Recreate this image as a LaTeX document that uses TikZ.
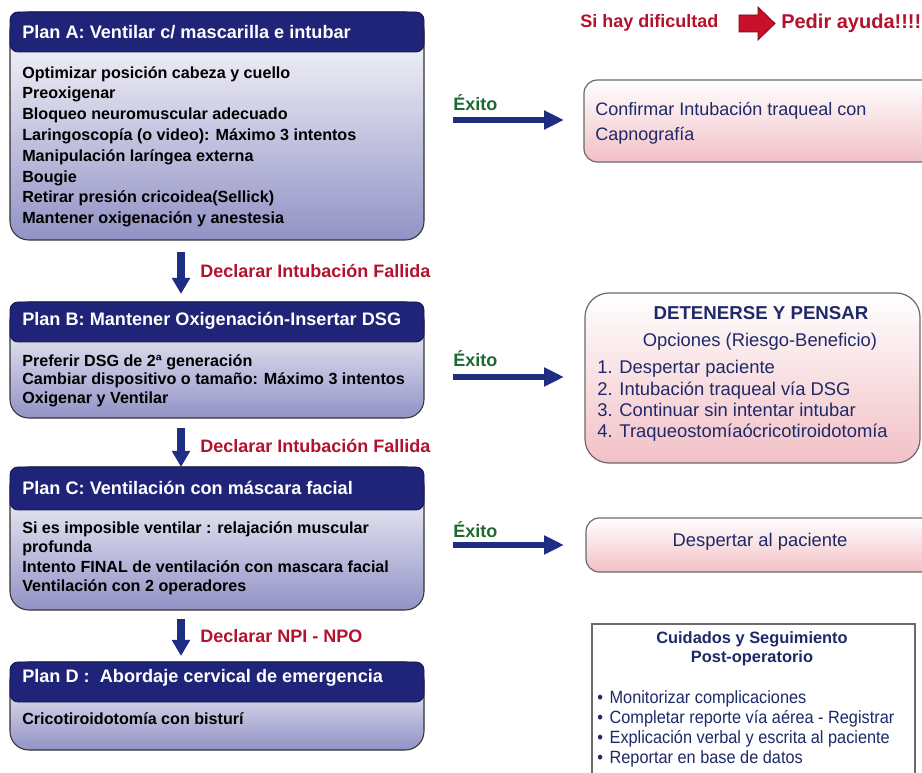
\documentclass[tikz,border=0pt]{standalone}
\usepackage{fontspec}
\setmainfont{Liberation Sans}
\newfontfamily\narrowfont[FakeStretch=0.92]{Liberation Sans}
\usetikzlibrary{arrows.meta,fit}
\definecolor{navy}{HTML}{1F2479}
\definecolor{lav}{HTML}{9292C6}
\definecolor{pinkb}{HTML}{F2C0C6}
\definecolor{redt}{HTML}{B3122D}
\definecolor{redarrow}{HTML}{C8102C}
\definecolor{greent}{HTML}{1D6A30}
\definecolor{txtblue}{HTML}{1E2968}
\definecolor{arrowblue}{HTML}{1F2D82}
\definecolor{bordergray}{HTML}{6A6A6A}
\begin{document}
\begin{tikzpicture}[x=0.75pt,y=-0.75pt,
  planbody/.style={draw=black!80, line width=0.8pt, rounded corners=14pt, top color=white, bottom color=lav, inner sep=0pt},
  planhead/.style={fill=navy, draw=navy!60!black, line width=0.6pt, rounded corners=6pt, inner sep=0pt},
  headtxt/.style={text=white, font=\bfseries\fontsize{13.6}{16}\selectfont, anchor=west, inner sep=0pt},
  bodytxt/.style={text=black, font=\bfseries\fontsize{12.1}{15.6}\selectfont, anchor=north west, align=left, inner sep=0pt},
  pinkbox/.style={draw=bordergray, line width=0.9pt, top color=white, bottom color=pinkb, inner sep=0pt},
  bluetxt/.style={text=txtblue, inner sep=0pt},
  redtxt/.style={text=redt, font=\bfseries\fontsize{13.5}{16}\selectfont, anchor=west, inner sep=0pt},
  exitotxt/.style={text=greent, font=\bfseries\fontsize{13.5}{16}\selectfont, anchor=west, inner sep=0pt},
  downarr/.style={draw=arrowblue, line width=6pt, -{Triangle[length=12pt,width=13pt]}},
  rightarr/.style={draw=arrowblue, line width=4.5pt, -{Triangle[length=15pt,width=13.5pt]}}
]
\clip (0,0) rectangle (922,773);
\fill[white] (0,0) rectangle (922,773);

% ---------- Plan A ----------
\node[planbody, fit={(10,12) (424,240)}] (Abody) {};
\node[planhead, fit={(10,12) (424,52)}] (Ahead) {};
\node[headtxt] (Aht) at (22,32) {Plan A: Ventilar c/ mascarilla e intubar};
\node[bodytxt] (Abt) at (22,66) {Optimizar posición cabeza y cuello\\Preoxigenar\\Bloqueo neuromuscular adecuado\\Laringoscopía (o video): Máximo 3 intentos\\Manipulación laríngea externa\\Bougie\\Retirar presión cricoidea(Sellick)\\Mantener oxigenación y anestesia};

% ---------- Plan B ----------
\node[planbody, fit={(10,302) (424,418)}] (Bbody) {};
\node[planhead, fit={(10,302) (424,342)}] (Bhead) {};
\node[headtxt] (Bht) at (22,321) {Plan B: Mantener Oxigenación-Insertar DSG};
\node[bodytxt, font=\bfseries\fontsize{12.1}{14}\selectfont] (Bbt) at (22,354) {Preferir DSG de 2ª generación\\Cambiar dispositivo o tamaño: Máximo 3 intentos\\Oxigenar y Ventilar};

% ---------- Plan C ----------
\node[planbody, fit={(10,467) (424,610)}] (Cbody) {};
\node[planhead, fit={(10,467) (424,510)}] (Chead) {};
\node[headtxt] (Cht) at (22,488) {Plan C: Ventilación con máscara facial};
\node[bodytxt, font=\bfseries\fontsize{12.1}{14.6}\selectfont] (Cbt) at (22,521) {Si es imposible ventilar : relajación muscular\\profunda\\Intento FINAL de ventilación con mascara facial\\Ventilación con 2 operadores};

% ---------- Plan D ----------
\node[planbody, fit={(10,662) (424,750)}] (Dbody) {};
\node[planhead, fit={(10,662) (424,702)}] (Dhead) {};
\node[headtxt] (Dht) at (22,678) {Plan D :\ \ Abordaje cervical de emergencia};
\node[bodytxt] (Dbt) at (22,712) {Cricotiroidotomía con bisturí};

% ---------- down arrows ----------
\coordinate (d1s) at (181,252); \coordinate (d1e) at (181,294);
\draw[downarr] (d1s) -- (d1e);
\node[redtxt] (f1) at (200,271) {Declarar Intubación Fallida};
\coordinate (d2s) at (181,428); \coordinate (d2e) at (181,467);
\draw[downarr] (d2s) -- (d2e);
\node[redtxt] (f2) at (200,446) {Declarar Intubación Fallida};
\coordinate (d3s) at (181,619); \coordinate (d3e) at (181,656);
\draw[downarr] (d3s) -- (d3e);
\node[redtxt] (f3) at (200,636) {Declarar NPI - NPO};

% ---------- top help line ----------
\node[redtxt] (dif) at (580,23) {Si hay dificultad};
\fill[redarrow, draw=redarrow!60!black, line width=0.6pt] (739,15) -- (758,15) -- (758,7) -- (775,23.5) -- (758,40) -- (758,32) -- (739,32) -- cycle;
\node[redtxt, font=\bfseries\fontsize{15}{18}\selectfont] (ayuda) at (781,23) {Pedir ayuda!!!!};

% ---------- Exito arrows ----------
\node[exitotxt] (e1) at (453,103) {Éxito};
\coordinate (r1s) at (453,120); \coordinate (r1e) at (564,120);
\draw[rightarr] (r1s) -- (r1e);
\node[exitotxt] (e2) at (453,359) {Éxito};
\coordinate (r2s) at (453,377); \coordinate (r2e) at (564,377);
\draw[rightarr] (r2s) -- (r2e);
\node[exitotxt] (e3) at (453,530) {Éxito};
\coordinate (r3s) at (453,545); \coordinate (r3e) at (564,545);
\draw[rightarr] (r3s) -- (r3e);

% ---------- right boxes ----------
\node[pinkbox, rounded corners=10pt, fit={(584,80) (945,162)}] (P1) {};
\node[bluetxt, anchor=north west, align=left, font=\fontsize{13.5}{18.5}\selectfont] (P1t) at (595,102) {Confirmar Intubación traqueal con\\Capnografía};

\node[pinkbox, rounded corners=18pt, fit={(585,293) (920,463)}] (P2) {};
\node[bluetxt, font=\bfseries\fontsize{14}{16}\selectfont] (P2a) at (761,313) {DETENERSE Y PENSAR};
\node[bluetxt, font=\fontsize{13.8}{16}\selectfont] (P2b) at (760,342) {Opciones (Riesgo-Beneficio)};
\node[bluetxt, anchor=north west, align=left, font=\fontsize{13.8}{16.1}\selectfont] (P2c) at (597,360) {1. Despertar paciente\\2. Intubación traqueal vía DSG\\3. Continuar sin intentar intubar\\4. Traqueostomíaócricotiroidotomía};

\node[pinkbox, rounded corners=10pt, fit={(586,518) (945,572)}] (P3) {};
\node[bluetxt, font=\fontsize{13.8}{16}\selectfont] (P3t) at (760,542) {Despertar al paciente};

\node[draw=bordergray, line width=0.9pt, fill=white, inner sep=0pt, fit={(592,624) (915,800)}] (P4) {};
\node[bluetxt, align=center, font=\bfseries\fontsize{12.3}{14.3}\selectfont] (P4t) at (752,649) {Cuidados y Seguimiento\\Post-operatorio};
\node[bluetxt, anchor=north west, align=left, font=\narrowfont\fontsize{13.3}{15.2}\selectfont] (P4l) at (597,690) {•\hspace{5pt}Monitorizar complicaciones\\•\hspace{5pt}Completar reporte vía aérea - Registrar\\•\hspace{5pt}Explicación verbal y escrita al paciente\\•\hspace{5pt}Reportar en base de datos};
\end{tikzpicture}
\end{document}
